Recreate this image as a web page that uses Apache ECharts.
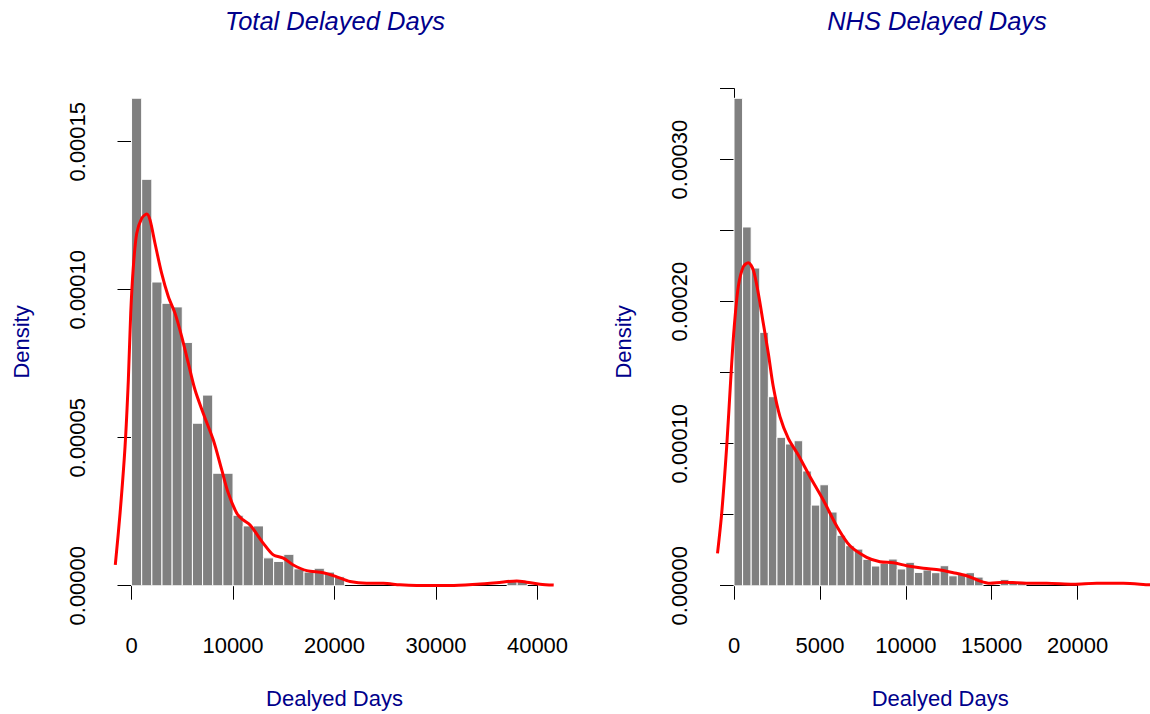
<!DOCTYPE html>
<html><head><meta charset="utf-8">
<script src="https://cdn.jsdelivr.net/npm/echarts@6/dist/echarts.min.js"></script>
<style>html,body{margin:0;padding:0;background:#fff}#c{width:1150px;height:714px}</style>
</head><body><div id="c"></div>
<script>
// ---------- data ----------
const titles = ['Total Delayed Days', 'NHS Delayed Days'];
const xLabel = 'Dealyed Days';
const yLabel = 'Density';

// Total delayed days: histogram (bin width 1000)
const leftBinWidth = 1000;
const leftBinStarts = [0,1000,2000,3000,4000,5000,6000,7000,8000,9000,10000,11000,12000,13000,14000,15000,16000,17000,18000,19000,20000,21000,22000,23000,24000,25000,26000,27000,28000,29000,30000,31000,32000,33000,34000,35000,36000,37000,38000,39000];
const leftDensity = [0.0001647,0.0001373,0.0001026,0.0000954,0.0000942,0.0000822,0.0000549,0.0000644,0.0000380,0.0000380,0.0000238,0.0000202,0.0000202,0.0000094,0.0000082,0.0000106,0.0000057,0.0000046,0.0000059,0.0000046,0.0000030,0,0,0,0,0,0,0,0,0,0,0,0,0,0,0,0,0.0000014,0.0000014,0];
// Total delayed days: kernel density curve
const leftKdeX = [-1600,-1130,-640,-315,-80,180,510,1000,1500,1820,2310,2970,3630,4290,4950,5600,6260,7070,8060,8890,9540,10370,11000,11680,12990,13970,14960,15940,17260,18900,20220,21530,23170,24810,26450,28100,31380,34010,35980,37950,38940,40250,41600];
const leftKdeY = [0.0000070,0.0000245,0.0000470,0.0000695,0.0000921,0.0001078,0.0001190,0.0001241,0.0001256,0.0001236,0.0001157,0.0001055,0.0000976,0.0000920,0.0000841,0.0000751,0.0000661,0.0000582,0.0000492,0.0000391,0.0000312,0.0000245,0.0000222,0.0000205,0.0000143,0.0000104,0.0000093,0.0000070,0.0000051,0.0000044,0.0000030,0.0000014,0.0000008,0.0000008,0.0000003,0.0000001,0.0000001,0.0000005,0.0000010,0.0000016,0.0000012,0.0000005,0.0000002];
const leftXTicks = [0, 40000, 10000];        // min, max, step
const leftYTicks = [0, 0.00015, 0.00005];

// NHS delayed days: histogram (bin width 500)
const rightBinWidth = 500;
const rightBinStarts = [0,500,1000,1500,2000,2500,3000,3500,4000,4500,5000,5500,6000,6500,7000,7500,8000,8500,9000,9500,10000,10500,11000,11500,12000,12500,13000,13500,14000,14500,15000,15500,16000,16500,17000,17500,18000,18500,19000,19500,20000,20500,21000,21500,22000,22500,23000,23500];
const rightDensity = [0.0003432,0.0002526,0.0002237,0.0001784,0.0001331,0.0001045,0.0000998,0.0001021,0.0000808,0.0000568,0.0000711,0.0000519,0.0000355,0.0000282,0.0000258,0.0000186,0.0000139,0.0000158,0.0000188,0.0000118,0.0000165,0.0000094,0.0000111,0.0000092,0.0000141,0.0000070,0.0000087,0.0000092,0.0000061,0,0,0.0000045,0.0000028,0.0000028,0,0,0,0,0,0,0,0,0,0,0,0,0,0];
// NHS delayed days: kernel density curve
const rightKdeX = [-960,-716,-425,-192,0,250,541,832,1123,1414,1705,1997,2288,2678,3161,3743,4424,5198,5978,6752,7724,8498,9272,10052,11019,11991,12765,13545,14319,14901,15675,16455,17421,18201,19750,21112,22660,24214,24960];
const rightKdeY = [0.0000228,0.0000510,0.0000979,0.0001449,0.0001801,0.0002106,0.0002246,0.0002275,0.0002223,0.0002059,0.0001848,0.0001637,0.0001401,0.0001190,0.0001038,0.0000920,0.0000768,0.0000604,0.0000420,0.0000281,0.0000200,0.0000169,0.0000162,0.0000141,0.0000123,0.0000111,0.0000092,0.0000070,0.0000033,0.0000017,0.0000024,0.0000021,0.0000017,0.0000017,0.0000010,0.0000017,0.0000017,0.0000007,0.0000005];
const rightXTicks = [0, 20000, 5000];
const rightYTicks = [0, 0.00035, 0.00005];

// ---------- layout / style ----------
const FONT = "'Liberation Sans', Arial, Helvetica, sans-serif";
const BLUE = '#00008B';
const TOP = 78.7, PLOT_H = 526.5;

function zip(a, b) { return a.map((v, i) => [v, b[i]]); }

function histItem(width) {
  return function (params, api) {
    const x0 = api.value(0), h = api.value(1);
    if (!h) return null;
    const p0 = api.coord([x0, h]);
    const p1 = api.coord([x0 + width, 0]);
    return {
      type: 'rect',
      shape: { x: p0[0], y: p0[1], width: p1[0] - p0[0], height: p1[1] - p0[1] },
      style: { fill: '#808080', stroke: '#ffffff', lineWidth: 1 }
    };
  };
}

const tickLabel = { color: '#000', fontSize: 22, fontFamily: FONT };
const nameStyle = { color: BLUE, fontSize: 22, fontFamily: FONT };

function hiddenX(grid, min, max) {
  return { type: 'value', gridIndex: grid, min: min, max: max,
    axisLine: { show: false }, axisTick: { show: false }, axisLabel: { show: false }, splitLine: { show: false },
    name: xLabel, nameLocation: 'middle', nameGap: 82, nameTextStyle: nameStyle };
}
function hiddenY(grid, min, max) {
  return { type: 'value', gridIndex: grid, min: min, max: max,
    axisLine: { show: false }, axisTick: { show: false }, axisLabel: { show: false }, splitLine: { show: false },
    name: yLabel, nameLocation: 'middle', nameGap: 83, nameTextStyle: nameStyle };
}
function visX(grid, t, offset) {
  return { type: 'value', gridIndex: grid, min: t[0], max: t[1], interval: t[2], offset: offset,
    axisLine: { show: true, lineStyle: { color: '#000', width: 1 } },
    axisTick: { show: true, length: 14, lineStyle: { color: '#000', width: 1 } },
    axisLabel: { show: true, margin: 29, showMinLabel: true, showMaxLabel: true,
      formatter: v => String(Math.round(v)), ...tickLabel },
    splitLine: { show: false } };
}
function visY(grid, t, offset, every) {
  return { type: 'value', gridIndex: grid, min: t[0], max: t[1], interval: t[2], offset: offset,
    axisLine: { show: true, lineStyle: { color: '#000', width: 1 } },
    axisTick: { show: true, length: 14, lineStyle: { color: '#000', width: 1 } },
    axisLabel: { show: true, rotate: 90, margin: 27, showMinLabel: true, showMaxLabel: true,
      formatter: v => (Math.round(v / t[2]) % every === 0 ? v.toFixed(5) : ''), ...tickLabel },
    splitLine: { show: false } };
}

const chart = echarts.init(document.getElementById('c'), null, { renderer: 'svg', width: 1150, height: 714 });

const titleStyle = { color: BLUE, fontSize: 25.5, fontStyle: 'italic', fontWeight: 'normal', fontFamily: FONT };

chart.setOption({
  backgroundColor: '#fff',
  animation: false,
  title: [
    { text: titles[0], left: 330, top: 3, textAlign: 'center', textStyle: titleStyle },
    { text: titles[1], left: 932, top: 3, textAlign: 'center', textStyle: titleStyle }
  ],
  grid: [
    { left: 115.3, top: TOP, width: 438.4, height: PLOT_H, outerBoundsMode: 'none', containLabel: false },
    { left: 131.5, top: 141.7, width: 406, height: 444, outerBoundsMode: 'none', containLabel: false },
    { left: 717.5, top: TOP, width: 445.3, height: PLOT_H, outerBoundsMode: 'none', containLabel: false },
    { left: 734, top: 88.6, width: 343.6, height: 497.1, outerBoundsMode: 'none', containLabel: false }
  ],
  xAxis: [
    hiddenX(0, -1600, 41600),
    visX(1, leftXTicks, 19.5),
    hiddenX(2, -960, 24960),
    visX(3, rightXTicks, 19.5)
  ],
  yAxis: [
    hiddenY(0, -0.00000659, 0.00017129),
    visY(1, leftYTicks, 16.2, 1),
    hiddenY(2, -0.0000137, 0.000357),
    visY(3, rightYTicks, 16.5, 2)
  ],
  series: [
    { type: 'custom', xAxisIndex: 0, yAxisIndex: 0, renderItem: histItem(leftBinWidth),
      encode: { x: 0, y: 1 }, data: zip(leftBinStarts, leftDensity), clip: true, z: 2 },
    { type: 'line', xAxisIndex: 0, yAxisIndex: 0, data: zip(leftKdeX, leftKdeY), showSymbol: false,
      smooth: 0.3, clip: true, lineStyle: { color: '#ff0000', width: 3 }, z: 3 },
    { type: 'custom', xAxisIndex: 2, yAxisIndex: 2, renderItem: histItem(rightBinWidth),
      encode: { x: 0, y: 1 }, data: zip(rightBinStarts, rightDensity), clip: true, z: 2 },
    { type: 'line', xAxisIndex: 2, yAxisIndex: 2, data: zip(rightKdeX, rightKdeY), showSymbol: false,
      smooth: 0.3, clip: true, lineStyle: { color: '#ff0000', width: 3 }, z: 3 }
  ]
});
</script>
</body></html>
